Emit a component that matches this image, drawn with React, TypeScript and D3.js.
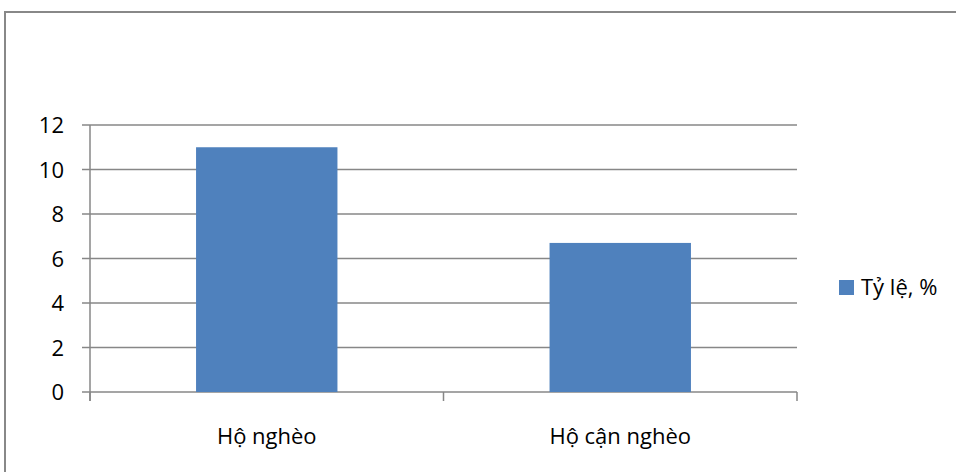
import React from "react";
import * as d3 from "d3";

const categories = ["Hộ nghèo", "Hộ cận nghèo"];
const values = [11, 6.7];
const seriesName = "Tỷ lệ, %";
const yTicks = [0, 2, 4, 6, 8, 10, 12];

export default function App() {
  const W = 956, H = 472;
  const left = 90, right = 797, top = 125, bottom = 392;
  const x = d3.scaleBand<string>().domain(categories).range([left, right]).padding(0);
  const y = d3.scaleLinear().domain([0, 12]).range([bottom, top]);
  const bw = x.bandwidth() * 0.4;
  const font = "'Open Sans', 'Liberation Sans', sans-serif";
  const grid = "#878787";
  const fs = 22;
  return (
    <svg width={W} height={H} style={{ position: "absolute", left: 0, top: 0 }}>
      <rect x={0} y={0} width={W} height={H} fill="#fff" />
      <rect x={5} y={12} width={W} height={H} fill="none" stroke="#888" strokeWidth={2} />
      {yTicks.map((t) => (
        <g key={t}>
          <line x1={82} x2={right} y1={y(t)} y2={y(t)} stroke={grid} strokeWidth={1.5} />
          <text x={64} y={y(t) + 8} textAnchor="end" fontFamily={font} fontSize={fs} fill="#000">{t}</text>
        </g>
      ))}
      <line x1={left} x2={left} y1={top} y2={401} stroke={grid} strokeWidth={1.5} />
      {[...categories.map((c) => x(c)!), right].map((px, i) => (
        <line key={i} x1={px} x2={px} y1={bottom} y2={401} stroke={grid} strokeWidth={1.5} />
      ))}
      {categories.map((c, i) => (
        <g key={c}>
          <rect x={x(c)! + (x.bandwidth() - bw) / 2} y={y(values[i])} width={bw} height={bottom - y(values[i])} fill="#4F81BD" />
          <text x={x(c)! + x.bandwidth() / 2} y={444} textAnchor="middle" fontFamily={font} fontSize={fs} fill="#000">{c}</text>
        </g>
      ))}
      <rect x={839} y={280} width={15} height={15} fill="#4F81BD" />
      <text x={861} y={295} fontFamily={font} fontSize={fs} fill="#000">{seriesName}</text>
    </svg>
  );
}
